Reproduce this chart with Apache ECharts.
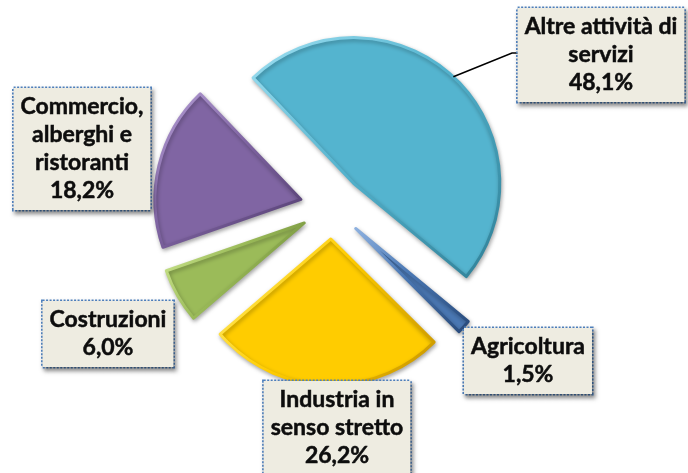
<!DOCTYPE html>
<html>
<head>
<meta charset="utf-8">
<script src="https://cdn.jsdelivr.net/npm/echarts@6/dist/echarts.min.js"></script>
<style>
  html, body { margin: 0; padding: 0; background: #ffffff; }
  #chart { width: 688px; height: 473px; }
</style>
</head>
<body>
<div id="chart"></div>
<script>
// ---- data ----
const categories = [
  'Altre attività di\nservizi',
  'Agricoltura',
  'Industria in\nsenso stretto',
  'Costruzioni',
  'Commercio,\nalberghi e\nristoranti'
];
const values = [48.1, 1.5, 26.2, 6.0, 18.2];
const colors = ['#54b4cf', '#4a78b4', '#ffcc00', '#9bbb59', '#8065a3'];
const lightColors = ['#9fe0f2', '#8fb2e0', '#fff07a', '#d6ef9a', '#b7a0d8'];
const darkColors = ['#2f7f96', '#27497a', '#c79400', '#5e7a2c', '#4f3a6c'];

// ---- layout (not data) ----
const CENTER = [332, 207];
const RADIUS = 146;
const OFFSET = 32;
const START = 133.6;
const labelPos = [
  [601, 55],
  [528, 361],
  [337, 428],
  [108, 334],
  [82, 149]
];

function fmt(v) { return v.toFixed(1).replace('.', ',') + '%'; }

const chart = echarts.init(document.getElementById('chart'), null, { renderer: 'canvas' });

const seriesData = categories.map((name, i) => ({
  name: name,
  value: values[i],
  selected: true,
  itemStyle: {
    color: colors[i],
    borderColor: new echarts.graphic.LinearGradient(0, 0, 1, 1, [
      { offset: 0, color: lightColors[i] },
      { offset: 0.45, color: colors[i] },
      { offset: 1, color: darkColors[i] }
    ]),
    borderWidth: 3,
    borderJoin: 'round',
    shadowColor: 'rgba(0,0,0,0.3)',
    shadowBlur: 4,
    shadowOffsetX: 1,
    shadowOffsetY: 2
  }
}));

// label anchor for the leader line (mid-angle of the first slice)
const total = values.reduce((a, b) => a + b, 0);
const midDeg = START - values[0] / total * 360 / 2;
const midRad = midDeg * Math.PI / 180;
const rr = RADIUS + OFFSET;
const lineStart = [CENTER[0] + rr * Math.cos(midRad), CENTER[1] - rr * Math.sin(midRad)];

const labelStyle = {
  font: 'bold 23px Lato',
  fill: '#0d0d0d',
  stroke: '#0d0d0d',
  lineWidth: 0.5,
  align: 'center',
  verticalAlign: 'middle',
  lineHeight: 28,
  backgroundColor: '#eeece1',
  borderColor: '#4f81bd',
  borderWidth: 1.6,
  borderDash: [2, 1.5],
  padding: [5, 7, 5, 7],
  shadowColor: 'rgba(0,0,0,0.45)',
  shadowBlur: 4,
  shadowOffsetX: 2,
  shadowOffsetY: 3
};

const graphics = [{
  type: 'polyline',
  z: 50,
  shape: { points: [lineStart, [512, 53], [520, 53]] },
  style: { stroke: '#000000', lineWidth: 1.6, fill: null }
}].concat(categories.map((name, i) => ({
  type: 'text',
  z: 60,
  x: labelPos[i][0],
  y: labelPos[i][1],
  style: Object.assign({}, labelStyle, { text: name + '\n' + fmt(values[i]) })
})));

chart.setOption({
  animation: false,
  backgroundColor: '#ffffff',
  series: [{
    type: 'pie',
    center: CENTER,
    radius: RADIUS,
    startAngle: START,
    clockwise: true,
    selectedMode: 'multiple',
    selectedOffset: OFFSET,
    avoidLabelOverlap: false,
    data: seriesData,
    emphasis: { disabled: true },
    label: { show: false },
    labelLine: { show: false }
  }],
  graphic: graphics
});
</script>
</body>
</html>
